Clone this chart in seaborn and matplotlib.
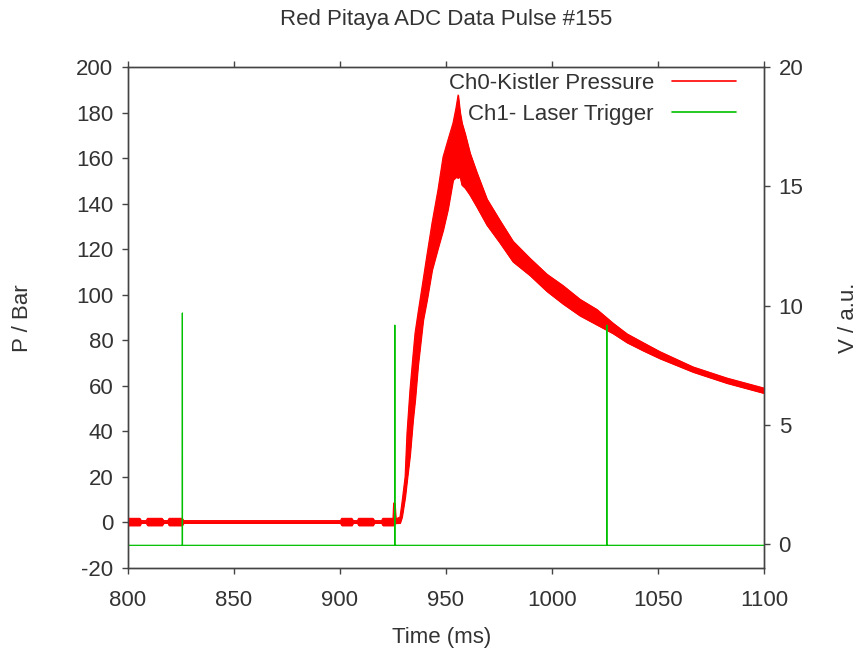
import numpy as np
import pandas as pd
import matplotlib
matplotlib.use("Agg")
import matplotlib.pyplot as plt
import seaborn as sns
from matplotlib.lines import Line2D

# ---------------- data ----------------
title = "Red Pitaya ADC Data Pulse #155"
xlabel = "Time (ms)"
ylabel_left = "P / Bar"
ylabel_right = "V / a.u."
legend_labels = ["Ch0-Kistler Pressure", "Ch1- Laser Trigger"]

# Ch0 pressure: time (ms), lower and upper edge of the noisy trace (bar)
p_time = [800.0, 805.5, 806.2, 808.6, 809.2, 816.0, 816.8, 818.8, 819.4, 825.5,
          826.2, 900.2, 900.8, 905.5, 906.2, 908.2, 908.8, 915.5, 916.2, 919.6,
          920.2, 925.0, 925.3, 925.8, 926.3, 928.3,
          929.2, 930.7, 931.6, 933.0, 934.4, 935.4, 936.8, 939.2, 941.0, 943.4,
          946.2, 948.6, 950.9, 953.3, 954.7, 955.7, 956.6, 957.5, 959.0, 961.3,
          964.6, 969.3, 975.5, 981.6, 989.6, 997.6, 1005.2, 1013.2, 1021.2, 1028.8,
          1035.4, 1042.9, 1050.9, 1066.5, 1082.5, 1100.0]
p_low = [-1.3, -1.3, -0.2, -0.2, -1.3, -1.3, -0.2, -0.2, -1.3, -1.3,
         -0.2, -0.2, -1.3, -1.3, -0.2, -0.2, -1.3, -1.3, -0.2, -0.2,
         -1.3, -1.3, -0.5, -0.5, -0.3, -0.2,
         2.4, 11.2, 18.6, 29.6, 45.0, 53.8, 69.1, 88.9, 97.7, 110.9,
         120.5, 128.4, 137.6, 150.4, 151.7, 151.3, 152.1, 148.2, 146.9, 143.8,
         138.5, 130.6, 122.7, 114.5, 108.5, 101.5, 96.0, 90.8, 86.8, 83.0,
         79.0, 75.5, 72.0, 66.1, 61.2, 56.8]
p_high = [1.8, 1.8, 0.8, 0.8, 1.8, 1.8, 0.8, 0.8, 1.8, 1.8,
          0.8, 0.8, 1.8, 1.8, 0.8, 0.8, 1.8, 1.8, 0.8, 0.8,
          1.8, 1.8, 8.5, 8.5, 1.5, 2.4,
          8.5, 20.0, 39.3, 58.2, 73.1, 83.2, 92.0, 106.5, 117.4, 131.5,
          146.0, 160.5, 167.9, 175.4, 182.0, 187.7, 180.2, 175.4, 170.6, 162.2,
          153.5, 142.0, 132.5, 123.5, 116.0, 109.0, 104.0, 98.0, 93.5, 87.5,
          82.8, 79.0, 75.0, 68.3, 63.4, 59.0]

# Ch1 laser trigger (V, a.u.)
trig_time = [800.0, 825.6, 825.65, 825.7, 925.8, 925.85, 925.9, 1025.8, 1025.85, 1025.9, 1100.0]
trig_v = [-0.05, -0.05, 9.69, -0.05, -0.05, 9.18, -0.05, -0.05, 9.18, -0.05, -0.05]

x_ticks = [800, 850, 900, 950, 1000, 1050, 1100]
yl_ticks = [-20, 0, 20, 40, 60, 80, 100, 120, 140, 160, 180, 200]
yr_ticks = [0, 5, 10, 15, 20]

# ---------------- styling ----------------
sns.set_style("white")
plt.rcParams["font.family"] = ["Liberation Sans", "DejaVu Sans"]
plt.rcParams["axes.unicode_minus"] = False
FS = 16
TXT = "#333333"
FRAME = "#444444"
RED = "#ff0000"
GREEN = "#00c000"

W, H = 858, 654
fig = plt.figure(figsize=(W / 100, H / 100), dpi=100)
L, R, T, B = 128, 764, 67, 568
ax = fig.add_axes([L / W, 1 - B / H, (R - L) / W, (B - T) / H])
ax2 = ax.twinx()

df_p = pd.DataFrame({"t": p_time, "lo": p_low, "hi": p_high})
df_t = pd.DataFrame({"t": trig_time, "v": trig_v})

ax.fill_between(df_p["t"], df_p["lo"], df_p["hi"], color=RED, lw=0.8,
                edgecolor=RED, zorder=3)
sns.lineplot(data=df_p, x="t", y="lo", ax=ax, color=RED, lw=0.8, sort=False,
             estimator=None, zorder=3)
sns.lineplot(data=df_p, x="t", y="hi", ax=ax, color=RED, lw=0.8, sort=False,
             estimator=None, zorder=3)
sns.lineplot(data=df_t, x="t", y="v", ax=ax2, color=GREEN, lw=0.9, sort=False,
             estimator=None)

ax.set_xlim(800, 1100)
ax.set_ylim(-20, 200)
ax2.set_ylim(-1, 20)
ax.set_xticks(x_ticks)
ax.set_yticks(yl_ticks)
ax2.set_yticks(yr_ticks)
ax.set_xlabel("")
ax.set_ylabel("")
ax2.set_ylabel("")

for a in (ax, ax2):
    for s in a.spines.values():
        s.set_color(FRAME)
        s.set_linewidth(1.0)
ax.tick_params(axis="x", which="both", direction="out", length=4.5, width=1,
               color=FRAME, labelcolor=TXT, labelsize=FS, pad=11,
               top=True, bottom=True, labeltop=False)
ax.tick_params(axis="y", direction="out", length=4.5, width=1, color=FRAME,
               labelcolor=TXT, labelsize=FS, pad=6, left=True, right=False)
ax2.tick_params(axis="y", direction="out", length=4.5, width=1, color=FRAME,
                labelcolor=TXT, labelsize=FS, pad=6, right=True, left=False)

fig.text(446 / W, 1 - 20 / H, title, ha="center", va="center", fontsize=FS, color=TXT)
fig.text(442 / W, 1 - 638 / H, xlabel, ha="center", va="center", fontsize=FS, color=TXT)
fig.text(22 / W, 1 - 318 / H, ylabel_left, ha="center", va="center", rotation=90,
         fontsize=FS, color=TXT)
fig.text(849 / W, 1 - 318 / H, ylabel_right, ha="center", va="center", rotation=90,
         fontsize=FS, color=TXT)

handles = [Line2D([], [], color=RED, lw=1.2), Line2D([], [], color=GREEN, lw=1.2)]
leg = fig.legend(handles, legend_labels, loc="upper right",
                 bbox_to_anchor=(736 / W, 1 - 73 / H), frameon=False,
                 markerfirst=False, fontsize=FS, handlelength=2.9,
                 handletextpad=0.8, borderpad=0, borderaxespad=0, labelspacing=0.45)
for t in leg.get_texts():
    t.set_color(TXT)
    t.set_ha("right")

fig.savefig("out.png", dpi=100)
